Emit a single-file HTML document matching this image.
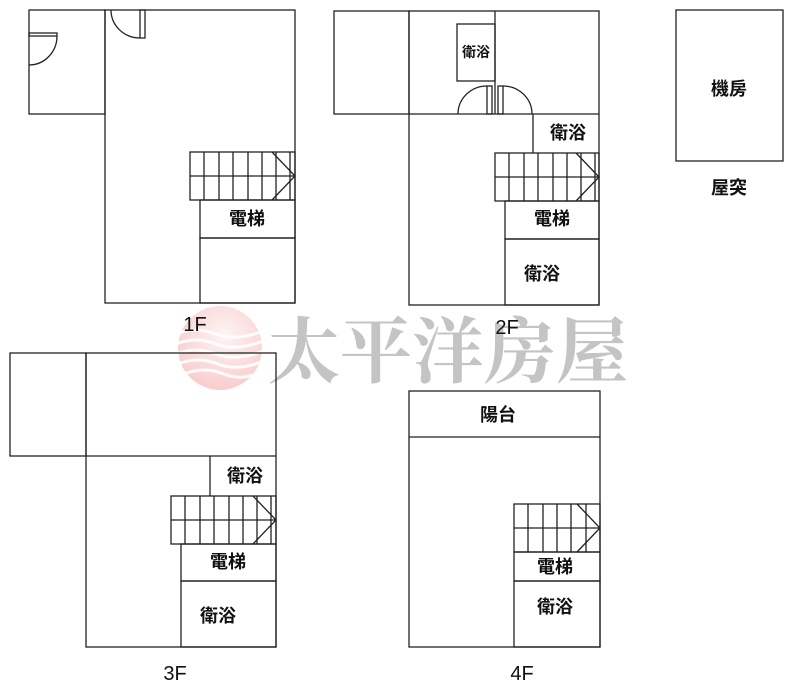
<!DOCTYPE html>
<html><head><meta charset="utf-8"><style>
body{margin:0;background:#fff;}
svg{display:block}
text{font-family:"Liberation Sans","Noto Sans CJK TC",sans-serif;fill:#111;font-weight:bold}
.l{stroke:#222;stroke-width:1.3;fill:none}
</style></head><body>
<svg width="800" height="696" viewBox="0 0 800 696" xmlns="http://www.w3.org/2000/svg">
<defs>
<radialGradient id="g" cx="0.55" cy="0.35" r="0.7">
<stop offset="0" stop-color="#fdeeee"/><stop offset="1" stop-color="#f4aeae"/>
</radialGradient>
</defs>
<!-- watermark -->
<circle cx="220" cy="348" r="42" fill="url(#g)" opacity="0.65"/>
<g stroke="#fff" stroke-width="3" fill="none" opacity="0.9">
<path d="M176 334 q20 -8 40 0 t50 -4"/>
<path d="M176 344 q20 -8 40 0 t50 -4"/>
<path d="M176 354 q20 -8 40 0 t50 -4"/>
<path d="M178 364 q20 -8 40 0 t48 -4"/>
<path d="M184 374 q20 -8 40 0 t40 -4"/>
</g>
<text x="268" y="377" font-size="72" style="font-family:'Noto Serif CJK SC',serif;fill:#c4c4c4;font-weight:bold">太平洋房屋</text>

<!-- 1F -->
<g class="l">
<rect x="29" y="10" width="76" height="104"/>
<rect x="105" y="10" width="190" height="293"/>
<rect x="140" y="10" width="5" height="28"/>
<path d="M111 10 A29 28 0 0 0 140 38"/>
<rect x="29" y="33" width="28" height="3"/>
<path d="M57 36 A28 29 0 0 1 29 65"/>
<rect x="200" y="200" width="95" height="38"/>
<rect x="200" y="238" width="95" height="65"/>
</g>
<text x="247" y="225" font-size="18" text-anchor="middle">電梯</text>
<text x="195" y="331" font-size="20" text-anchor="middle" style="font-weight:normal">1F</text>

<!-- 2F -->
<g class="l">
<rect x="334" y="11" width="75" height="103"/>
<rect x="409" y="11" width="190" height="294"/>
<line x1="409" y1="114" x2="599" y2="114"/>
<line x1="495" y1="11" x2="495" y2="114"/>
<rect x="457" y="24" width="38" height="57"/>
<rect x="487" y="86" width="5" height="28"/><rect x="498" y="86" width="5" height="28"/>
<path d="M458 114 A29 28 0 0 1 487 86"/>
<path d="M503 86 A29 28 0 0 1 532 114"/>
<line x1="533" y1="114" x2="533" y2="153"/>
<rect x="505" y="201" width="94" height="38"/>
<rect x="505" y="239" width="94" height="66"/>
</g>
<text x="476" y="57" font-size="14" text-anchor="middle">衛浴</text>
<text x="568" y="139" font-size="18" text-anchor="middle">衛浴</text>
<text x="552" y="225" font-size="18" text-anchor="middle">電梯</text>
<text x="542" y="280" font-size="18" text-anchor="middle">衛浴</text>
<text x="507" y="334" font-size="20" text-anchor="middle" style="font-weight:normal">2F</text>

<!-- roof -->
<rect class="l" x="676" y="10" width="107" height="151"/>
<text x="729" y="95" font-size="18" text-anchor="middle">機房</text>
<text x="729" y="194" font-size="18" text-anchor="middle">屋突</text>

<!-- 3F -->
<g class="l">
<rect x="10" y="353" width="76" height="103"/>
<rect x="86" y="353" width="190" height="294"/>
<line x1="86" y1="456" x2="276" y2="456"/>
<line x1="210" y1="456" x2="210" y2="496"/>
<rect x="181" y="544" width="95" height="37"/>
<rect x="181" y="581" width="95" height="66"/>
</g>
<text x="245" y="482" font-size="18" text-anchor="middle">衛浴</text>
<text x="228" y="568" font-size="18" text-anchor="middle">電梯</text>
<text x="218" y="622" font-size="18" text-anchor="middle">衛浴</text>
<text x="175" y="680" font-size="20" text-anchor="middle" style="font-weight:normal">3F</text>

<!-- 4F -->
<g class="l">
<rect x="409" y="391" width="191" height="256"/>
<line x1="409" y1="437" x2="600" y2="437"/>
<rect x="514" y="552" width="86" height="29"/>
<rect x="514" y="581" width="86" height="66"/>
</g>
<text x="498" y="421" font-size="18" text-anchor="middle">陽台</text>
<text x="555" y="573" font-size="18" text-anchor="middle">電梯</text>
<text x="555" y="613" font-size="18" text-anchor="middle">衛浴</text>
<text x="522" y="680" font-size="20" text-anchor="middle" style="font-weight:normal">4F</text>

<!-- stairs -->
<g class="l">
<rect x="190" y="152" width="105" height="48"/><line x1="190" y1="176" x2="295" y2="176"/>
<path d="M204 152V200M219 152V200M233 152V200M248 152V200M262 152V200M276 152V200M290 152V200"/>
<path d="M272 152L295 176L272 200"/>

<rect x="495" y="153" width="104" height="48"/><line x1="495" y1="177" x2="599" y2="177"/>
<path d="M509 153V201M524 153V201M538 153V201M553 153V201M567 153V201M581 153V201M595 153V201"/>
<path d="M576 153L599 177L576 201"/>

<rect x="171" y="496" width="105" height="48"/><line x1="171" y1="520" x2="276" y2="520"/>
<path d="M185 496V544M200 496V544M214 496V544M229 496V544M243 496V544M257 496V544M271 496V544"/>
<path d="M253 496L276 520L253 544"/>

<rect x="514" y="504" width="86" height="48"/><line x1="514" y1="528" x2="600" y2="528"/>
<path d="M528 504V552M543 504V552M557 504V552M571 504V552M586 504V552"/>
<path d="M577 504L600 528L577 552"/>
</g>
</svg>
</body></html>
